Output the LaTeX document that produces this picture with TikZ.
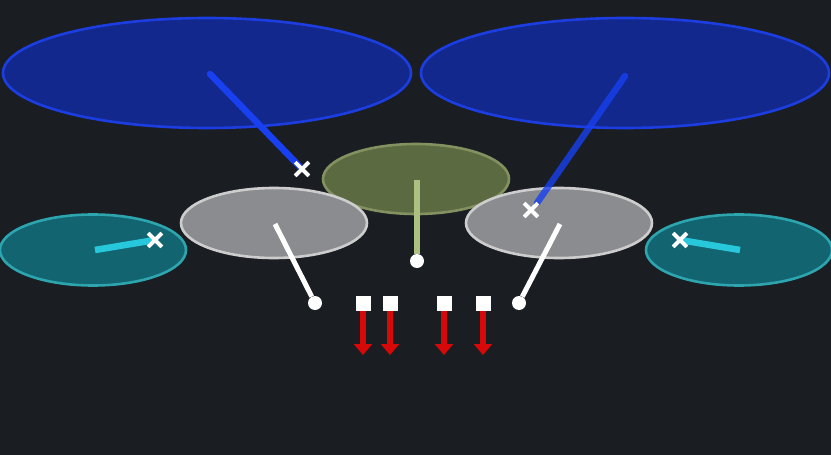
\documentclass[tikz,border=0pt]{standalone}
\usetikzlibrary{shapes.geometric,shapes.misc,arrows.meta}
\definecolor{bg}{RGB}{26,29,34}
\definecolor{bluefill}{RGB}{18,40,140}
\definecolor{blueedge}{RGB}{28,62,225}
\definecolor{blueline}{RGB}{24,64,240}
\definecolor{olivefill}{RGB}{92,106,66}
\definecolor{oliveedge}{RGB}{130,145,95}
\definecolor{oliveline}{RGB}{172,192,130}
\definecolor{grayfill}{RGB}{138,140,143}
\definecolor{grayedge}{RGB}{205,205,205}
\definecolor{tealfill}{RGB}{18,100,112}
\definecolor{tealedge}{RGB}{45,165,175}
\definecolor{cyanline}{RGB}{40,200,220}
\definecolor{redarrow}{RGB}{215,8,8}
\tikzset{
  ell/.style={ellipse, inner sep=0pt, line width=2.6pt},
  bigell/.style={ell, minimum width=408pt, minimum height=110pt, fill=bluefill, draw=blueedge},
  oliveell/.style={ell, minimum width=186pt, minimum height=70pt, fill=olivefill, draw=oliveedge},
  grayell/.style={ell, minimum width=186pt, minimum height=70pt, fill=grayfill, draw=grayedge},
  tealell/.style={ell, minimum width=186pt, minimum height=71pt, fill=tealfill, draw=tealedge},
  xmark/.style={cross out, draw=white, line width=3.6pt, minimum size=10pt, inner sep=0pt},
  dotmark/.style={circle, fill=white, minimum size=14pt, inner sep=0pt},
  sq/.style={rectangle, fill=white, minimum size=15pt, inner sep=0pt},
  stick/.style={line width=6.5pt},
  redarr/.style={draw=redarrow, line width=6.5pt, -{Triangle[width=18pt,length=11pt]}}
}
\begin{document}
\begin{tikzpicture}[x=1pt,y=-1pt]
\fill[bg] (0,0) rectangle (831,455);
\useasboundingbox (0,0) rectangle (831,455);
% blue ellipses
\node[bigell] (bl) at (207,73) {};
\node[bigell] (br) at (625,73) {};
% teal ellipses
\node[tealell] (tl) at (93,250) {};
\node[tealell] (tr) at (739,250) {};
% olive
\node[oliveell] (ol) at (416,179) {};
% gray
\node[grayell] (gl) at (274,223) {};
\node[grayell] (gr) at (559,223) {};
% markers
\node[xmark] (xbl) at (302,169) {};
\node[xmark] (xbr) at (531,210) {};
\node[xmark] (xtl) at (155,240) {};
\node[xmark] (xtr) at (680,240) {};
\coordinate (cbl) at (210,74);
\coordinate (cbr) at (625,76);
\coordinate (ctl) at (95,250);
\coordinate (ctr) at (740,250);
\coordinate (col) at (417,180);
\coordinate (cgl) at (275,224);
\coordinate (cgr) at (560,224);
% sticks
\draw[stick, blueline, line cap=round] (cbl) -- (xbl.center);
\draw[stick, blueline, line cap=round, opacity=0.8] (cbr) -- (537,203);
\draw[stick, cyanline] (ctl) -- (xtl.center);
\draw[stick, cyanline] (ctr) -- (xtr.center);
\node[dotmark] (dol) at (417,261) {};
\node[dotmark] (dgl) at (315,303) {};
\node[dotmark] (dgr) at (519,303) {};
\draw[stick, oliveline] (col) -- (dol);
\draw[line width=5pt, white] (cgl) -- (dgl);
\draw[line width=5pt, white] (cgr) -- (dgr);
% redraw markers on top
\node[xmark] at (xbl) {};
\node[xmark] at (xbr) {};
\node[xmark] at (xtl) {};
\node[xmark] at (xtr) {};
% squares and red arrows
\foreach \i/\x in {1/363,2/390,3/444,4/483}{
  \coordinate (e\i) at (\x,355);
  \draw[redarr] (\x,310) -- (e\i);
  \node[sq] (s\i) at (\x,303) {};
}
\end{tikzpicture}
\end{document}
